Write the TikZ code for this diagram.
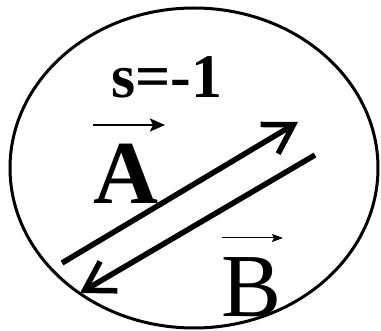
\documentclass[tikz,border=0pt]{standalone}
\usepackage{fontspec}
\setmainfont{Liberation Serif}
\usetikzlibrary{arrows.meta}

\begin{document}
\begin{tikzpicture}[x=1pt, y=-1pt]
  \useasboundingbox (0,0) rectangle (381,331);
  \draw[line width=3pt] (194,168) ellipse [x radius=184, y radius=160];
  % labels
  \node[font=\fontsize{62}{62}\selectfont\bfseries, anchor=base west, inner sep=0] (spin) at (111,98) {s=-1};
  \node[font=\fontsize{90}{90}\selectfont\bfseries, anchor=base west, inner sep=0] (vecA) at (93,204) {A};
  \node[font=\fontsize{90}{90}\selectfont, anchor=base west, inner sep=0] (vecB) at (221,317) {B};
  % small arrows over the letters
  \coordinate (aL) at (93,125);
  \coordinate (aR) at (165,125);
  \coordinate (bL) at (222,238);
  \coordinate (bR) at (283,238);
  \draw[line width=2.2pt, -{Stealth[length=15pt, width=13pt, inset=3pt]}] (aL) -- (aR);
  \draw[line width=1pt, -{Stealth[length=11pt, width=8pt, inset=2pt]}] (bL) -- (bR);
  % the two long arrows
  \coordinate (upS) at (62,263);
  \coordinate (upT) at (298,122);
  \coordinate (dnS) at (315,155);
  \coordinate (dnT) at (80,293);
  \draw[line width=5.5pt, -{Straight Barb[length=28pt, width=34pt]}] (upS) -- (upT);
  \draw[line width=5.5pt, -{Straight Barb[length=28pt, width=34pt]}] (dnS) -- (dnT);
\end{tikzpicture}
\end{document}
